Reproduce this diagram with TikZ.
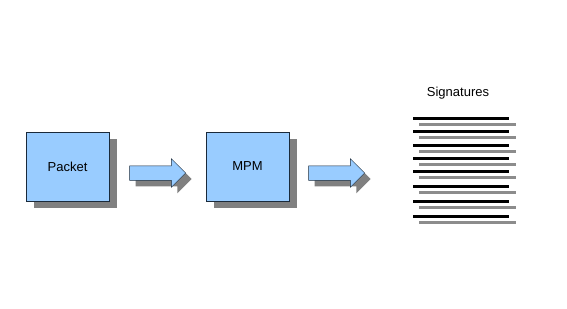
\documentclass[tikz,border=0pt]{standalone}
\usepackage{fontspec}
\setmainfont{Liberation Sans}
\usetikzlibrary{positioning,shadows,shapes.arrows}
\definecolor{PktBlue}{HTML}{99CCFF}
\definecolor{PktEdge}{HTML}{1A2A3A}
\definecolor{PktShade}{HTML}{808080}
\definecolor{SigGrey}{HTML}{8C8C8C}
\begin{document}
\begin{tikzpicture}[
  x=1pt, y=-1pt,
  stage/.style={fill=PktBlue, draw=PktEdge, line width=0.6pt,
                minimum width=83pt, minimum height=69pt, inner sep=0pt,
                font=\fontsize{13}{15}\selectfont,
                drop shadow={shadow xshift=8pt, shadow yshift=-7pt,
                             fill=PktShade, opacity=1}},
  flow/.style={single arrow, fill=PktBlue, draw=PktEdge, line width=0.5pt,
               minimum height=56pt, inner xsep=0pt, inner ysep=7pt,
               single arrow head extend=7pt,
               drop shadow={shadow xshift=6pt, shadow yshift=-6pt,
                            fill=PktShade, opacity=1}},
  sighead/.style={font=\fontsize{13}{15}\selectfont},
  sigmain/.style={line width=3pt, color=black},
  sigsub/.style={line width=3pt, color=SigGrey},
]
\useasboundingbox (0,0) rectangle (567,308);

% --- Stages ---
\node[stage] (packet) at (67.5,166.5) {Packet};
\node[flow] (toMPM) at (154,173) {};
\node[stage] (mpm) at (247.5,166.5) {MPM};
\node[flow] (toSig) at (333,173) {};

% --- Signature list ---
\node[sighead] (sig) at (458,93) {Signatures};
\foreach \y in {118,131,145,158,171,186,201,216} {
  \draw[sigmain] (413,\y) -- (509,\y);
  \draw[sigsub] (419,\y+6) -- (516,\y+6);
}

\end{tikzpicture}
\end{document}
